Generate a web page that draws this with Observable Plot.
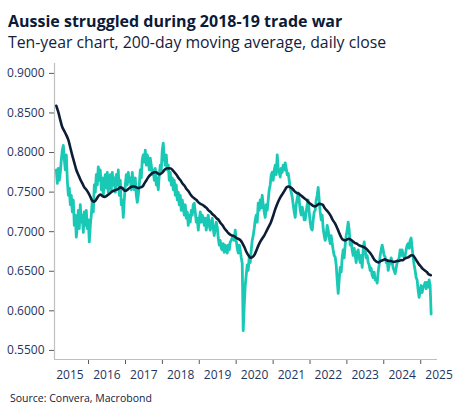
<!DOCTYPE html>
<html>
<head>
<meta charset="utf-8">
<script src="https://cdn.jsdelivr.net/npm/d3@7"></script>
<script src="https://cdn.jsdelivr.net/npm/@observablehq/plot@0.6"></script>
<style>
  body { margin: 0; background: #fff; }
  #wrap { position: relative; width: 453px; height: 416px; font-family: "Open Sans", sans-serif; }
  .title { position: absolute; left: 8px; top: 13px; font: 700 16px/1 "Open Sans"; color: #0b1a38; white-space: nowrap; }
  .sub { position: absolute; left: 8px; top: 35px; font: 400 15.8px/1 "Open Sans"; color: #13213d; white-space: nowrap; }
  #chart { position: absolute; left: 0; top: 56px; }
  .src { position: absolute; left: 10px; top: 393px; font: 400 10.5px/1 "Open Sans"; color: #13213d; white-space: nowrap; }
</style>
</head>
<body>
<div id="wrap">
  <div class="title">Aussie struggled during 2018-19 trade war</div>
  <div class="sub">Ten-year chart, 200-day moving average, daily close</div>
  <div id="chart"></div>
  <div class="src">Source: Convera, Macrobond</div>
</div>
<script>
// AUD/USD daily close, every 10 days
const closeStart = new Date(2015, 1, 16)
const closeEnd = new Date(2025, 3, 14)
const close = [
  0.778, 0.761, 0.780, 0.765, 0.775, 0.791, 0.803, 0.809, 0.791, 0.778,
  0.797, 0.765, 0.746, 0.755, 0.734, 0.746, 0.725, 0.740, 0.708, 0.721,
  0.693, 0.708, 0.727, 0.704, 0.734, 0.712, 0.721, 0.699, 0.725, 0.708,
  0.727, 0.704, 0.715, 0.687, 0.708, 0.721, 0.740, 0.725, 0.759, 0.750,
  0.772, 0.759, 0.782, 0.765, 0.778, 0.753, 0.768, 0.746, 0.765, 0.772,
  0.755, 0.775, 0.750, 0.765, 0.772, 0.753, 0.775, 0.759, 0.768, 0.750,
  0.772, 0.759, 0.778, 0.746, 0.765, 0.734, 0.740, 0.718, 0.740, 0.759,
  0.772, 0.759, 0.775, 0.763, 0.768, 0.753, 0.775, 0.759, 0.753, 0.768,
  0.746, 0.737, 0.746, 0.759, 0.778, 0.768, 0.791, 0.797, 0.788, 0.803,
  0.784, 0.797, 0.791, 0.778, 0.793, 0.784, 0.772, 0.778, 0.765, 0.780,
  0.759, 0.768, 0.753, 0.772, 0.784, 0.778, 0.803, 0.812, 0.793, 0.784,
  0.797, 0.778, 0.784, 0.765, 0.775, 0.759, 0.768, 0.753, 0.765, 0.746,
  0.759, 0.740, 0.750, 0.734, 0.746, 0.727, 0.740, 0.731, 0.721, 0.734,
  0.717, 0.725, 0.708, 0.721, 0.712, 0.727, 0.721, 0.734, 0.736, 0.725,
  0.712, 0.717, 0.702, 0.715, 0.725, 0.712, 0.721, 0.717, 0.708, 0.717,
  0.702, 0.712, 0.721, 0.708, 0.702, 0.712, 0.717, 0.704, 0.695, 0.704,
  0.712, 0.706, 0.692, 0.683, 0.689, 0.679, 0.677, 0.685, 0.674, 0.683,
  0.677, 0.673, 0.683, 0.677, 0.687, 0.689, 0.692, 0.695, 0.689, 0.702,
  0.689, 0.679, 0.673, 0.683, 0.677, 0.667, 0.660, 0.575, 0.607, 0.632,
  0.645, 0.658, 0.651, 0.668, 0.661, 0.677, 0.689, 0.695, 0.704, 0.715,
  0.721, 0.712, 0.736, 0.727, 0.740, 0.730, 0.746, 0.734, 0.725, 0.718,
  0.734, 0.727, 0.740, 0.753, 0.759, 0.772, 0.775, 0.765, 0.778, 0.784,
  0.772, 0.797, 0.780, 0.775, 0.769, 0.780, 0.775, 0.784, 0.778, 0.787,
  0.780, 0.772, 0.774, 0.765, 0.755, 0.750, 0.744, 0.734, 0.725, 0.718,
  0.734, 0.742, 0.749, 0.740, 0.727, 0.721, 0.731, 0.725, 0.715, 0.715,
  0.725, 0.734, 0.740, 0.725, 0.712, 0.704, 0.702, 0.715, 0.725, 0.727,
  0.740, 0.746, 0.756, 0.740, 0.725, 0.715, 0.721, 0.704, 0.695, 0.689,
  0.695, 0.708, 0.702, 0.692, 0.685, 0.695, 0.685, 0.677, 0.670, 0.668,
  0.658, 0.639, 0.622, 0.639, 0.655, 0.649, 0.667, 0.677, 0.667, 0.683,
  0.695, 0.702, 0.712, 0.702, 0.683, 0.689, 0.677, 0.670, 0.679, 0.670,
  0.661, 0.674, 0.677, 0.667, 0.661, 0.670, 0.655, 0.677, 0.687, 0.677,
  0.667, 0.670, 0.661, 0.658, 0.651, 0.654, 0.645, 0.642, 0.649, 0.639,
  0.641, 0.635, 0.649, 0.658, 0.670, 0.677, 0.683, 0.677, 0.670, 0.668,
  0.661, 0.664, 0.651, 0.658, 0.661, 0.667, 0.661, 0.654, 0.651, 0.647,
  0.654, 0.661, 0.664, 0.667, 0.677, 0.670, 0.677, 0.670, 0.667, 0.670,
  0.677, 0.683, 0.685, 0.679, 0.689, 0.692, 0.679, 0.668, 0.658, 0.651,
  0.642, 0.639, 0.626, 0.617, 0.626, 0.632, 0.623, 0.630, 0.632, 0.636,
  0.628, 0.636, 0.630, 0.639, 0.632, 0.596
]

// 200-day moving average, every 20 days
const maStart = new Date(2015, 1, 16)
const maEnd = new Date(2025, 3, 11)
const ma200 = [
  0.859, 0.851, 0.841, 0.832, 0.827, 0.822, 0.816, 0.806, 0.796, 0.787,
  0.778, 0.772, 0.766, 0.761, 0.756, 0.753, 0.749, 0.744, 0.739, 0.738,
  0.741, 0.745, 0.747, 0.745, 0.744, 0.745, 0.747, 0.749, 0.751, 0.752,
  0.753, 0.754, 0.756, 0.755, 0.752, 0.752, 0.754, 0.756, 0.757, 0.757,
  0.756, 0.755, 0.756, 0.757, 0.761, 0.765, 0.769, 0.772, 0.774, 0.775,
  0.775, 0.773, 0.773, 0.775, 0.778, 0.780, 0.780, 0.780, 0.778, 0.775,
  0.772, 0.768, 0.765, 0.761, 0.758, 0.754, 0.751, 0.747, 0.744, 0.742,
  0.740, 0.737, 0.735, 0.734, 0.732, 0.730, 0.727, 0.725, 0.722, 0.720,
  0.717, 0.715, 0.711, 0.708, 0.704, 0.701, 0.698, 0.696, 0.695, 0.694,
  0.692, 0.691, 0.689, 0.685, 0.680, 0.674, 0.670, 0.667, 0.668, 0.671,
  0.677, 0.683, 0.688, 0.692, 0.696, 0.701, 0.706, 0.711, 0.718, 0.726,
  0.733, 0.739, 0.744, 0.748, 0.752, 0.756, 0.757, 0.756, 0.754, 0.751,
  0.749, 0.748, 0.746, 0.744, 0.742, 0.740, 0.737, 0.735, 0.733, 0.732,
  0.733, 0.735, 0.735, 0.734, 0.730, 0.727, 0.724, 0.720, 0.715, 0.711,
  0.706, 0.700, 0.694, 0.690, 0.689, 0.690, 0.691, 0.690, 0.688, 0.686,
  0.685, 0.683, 0.682, 0.681, 0.680, 0.678, 0.675, 0.672, 0.668, 0.664,
  0.662, 0.661, 0.663, 0.664, 0.665, 0.664, 0.663, 0.663, 0.662, 0.662,
  0.663, 0.663, 0.664, 0.664, 0.666, 0.667, 0.668, 0.670, 0.670, 0.667,
  0.663, 0.659, 0.656, 0.653, 0.651, 0.649, 0.646, 0.645
]

const yTicks = [0.55, 0.60, 0.65, 0.70, 0.75, 0.80, 0.85, 0.90]
const years = [2015, 2016, 2017, 2018, 2019, 2020, 2021, 2022, 2023, 2024, 2025]

const teal = "#19c9b5"
const navy = "#0c1d35"
const axisGrey = "#bfbfbf"
const labelBlue = "#1f3561"

// spread the readings evenly over their date range
function toRows(values, start, end) {
  const step = (end - start) / (values.length - 1)
  return values.map((v, i) => ({ date: new Date(+start + i * step), value: v }))
}
const closeRows = toRows(close, closeStart, closeEnd)
const maRows = toRows(ma200, maStart, maEnd)

const xDomain = [new Date(2015, 0, 29), new Date(2025, 5, 16)]
const yDomain = [0.5385, 0.9125]
const yearStarts = years.slice(1).map(y => new Date(y, 0, 1))
const yearMids = years.map(y => new Date(y, 6, 1))

let chart = Plot.plot({
  width: 453,
  height: 330,
  marginLeft: 54,
  marginRight: 16,
  marginTop: 7,
  marginBottom: 27,
  style: { fontFamily: "Open Sans", fontSize: "12px", background: "transparent", overflow: "visible" },
  x: { type: "time", domain: xDomain },
  y: { domain: yDomain },
  marks: [
    Plot.axisY({ ticks: yTicks, tickFormat: d3.format(".4f"), tickSize: 5, tickPadding: 5,
      stroke: "#595959", fill: labelBlue, label: null }),
    Plot.axisX({ ticks: yearStarts, tickSize: 5, tickFormat: () => "", stroke: "#595959", label: null }),
    Plot.axisX({ ticks: yearMids, tickSize: 0, tickPadding: 11, tickFormat: "%Y", fill: labelBlue, label: null }),
    Plot.ruleX([xDomain[0]], { stroke: axisGrey, strokeWidth: 1.2 }),
    Plot.ruleY([yDomain[0]], { stroke: axisGrey, strokeWidth: 1.2 }),
    Plot.line(closeRows, { x: "date", y: "value", stroke: teal, strokeWidth: 2.8 }),
    Plot.line(maRows, { x: "date", y: "value", stroke: navy, strokeWidth: 2.6, curve: "catmull-rom" })
  ]
})

d3.select("#chart").append(() => chart)
</script>
</body>
</html>
